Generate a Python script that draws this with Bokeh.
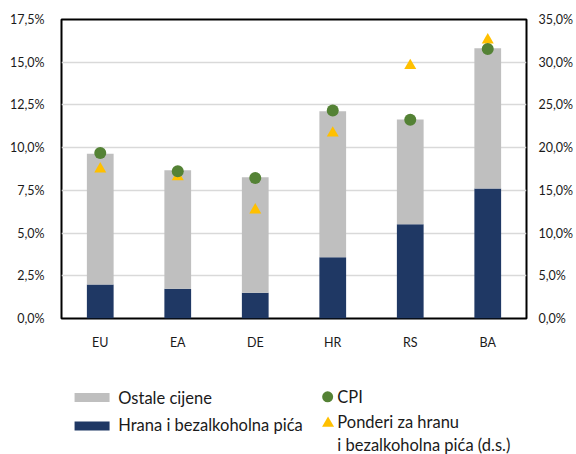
from bokeh.plotting import figure
from bokeh.models import (FactorRange, Range1d, LinearAxis, FixedTicker,
                          CustomJSTickFormatter, ColumnDataSource)
from bokeh.layouts import column
from bokeh.embed import file_html
from bokeh.resources import INLINE
from bokeh.core.properties import value

# ---- data ----
categories = ["EU", "EA", "DE", "HR", "RS", "BA"]
hrana = [1.99, 1.74, 1.50, 3.59, 5.52, 7.61]          # Hrana i bezalkoholna pića (left axis, %)
ostale = [7.65, 6.94, 6.77, 8.54, 6.12, 8.21]         # Ostale cijene (left axis, %)
cpi = [9.68, 8.62, 8.23, 12.17, 11.63, 15.78]         # CPI (left axis, %)
ponderi = [17.5, 16.6, 12.7, 21.7, 29.6, 32.6]        # Ponderi (right axis, %)
left_ticks = [0, 2.5, 5, 7.5, 10, 12.5, 15, 17.5]
right_ticks = [0, 5, 10, 15, 20, 25, 30, 35]
legend_labels = ["Ostale cijene", "Hrana i bezalkoholna pića", "CPI",
                 "Ponderi za hranu", "i bezalkoholna pića (d.s.)"]

# ---- style ----
FONT = "Lato"
TXT = "#1a1a1a"
NAVY = "#1F3864"
GREY = "#BFBFBF"
GREEN = "#548235"
GOLD = "#FFC000"
W = 576
H1 = 358
H2 = 96
BL, BR = 61, 48

src = ColumnDataSource(dict(cat=categories, hrana=hrana, ostale=ostale,
                            cpi=cpi, ponderi=ponderi))

p = figure(x_range=FactorRange(factors=categories, range_padding=0),
           y_range=Range1d(0, 17.5), width=W, height=H1,
           output_backend="svg", toolbar_location=None,
           min_border_left=BL, min_border_right=BR,
           min_border_top=19, min_border_bottom=40)
p.extra_y_ranges = {"right": Range1d(0, 35)}

p.vbar_stack(["hrana", "ostale"], x="cat", width=0.345, source=src,
             fill_color=[NAVY, GREY], line_color=None)
p.scatter(x="cat", y="ponderi", source=src, marker="triangle", size=12,
          fill_color=GOLD, line_color=None, y_range_name="right")
p.scatter(x="cat", y="cpi", source=src, marker="circle", size=12,
          fill_color=GREEN, line_color=None)

fmt = "return tick.toFixed(1).replace('.', ',') + '%';"
p.yaxis.ticker = FixedTicker(ticks=left_ticks)
p.yaxis.formatter = CustomJSTickFormatter(code=fmt)
p.yaxis.major_label_standoff = 17

raxis = LinearAxis(y_range_name="right", ticker=FixedTicker(ticks=right_ticks),
                   formatter=CustomJSTickFormatter(code=fmt))
raxis.major_label_standoff = 12
p.add_layout(raxis, "right")

p.xaxis.major_label_standoff = 16

for ax in p.axis:
    ax.axis_line_color = None
    ax.major_tick_line_color = None
    ax.minor_tick_line_color = None
    ax.major_tick_in = 0
    ax.major_tick_out = 0
    ax.major_label_text_font = FONT
    ax.major_label_text_font_size = "12.5px"
    ax.major_label_text_color = TXT

p.xgrid.grid_line_color = None
p.ygrid.ticker = FixedTicker(ticks=left_ticks)
p.ygrid.grid_line_color = "#D9D9D9"
p.ygrid.grid_line_width = 1.5
p.outline_line_color = "#000000"
p.outline_line_width = 2
p.background_fill_color = "white"
p.border_fill_color = "white"

# ---- legend panel (coordinates = page pixels) ----
q = figure(width=W, height=H2, x_range=Range1d(BL, W - BR),
           y_range=Range1d(H1 + H2, H1),
           output_backend="svg", toolbar_location=None,
           min_border_left=BL, min_border_right=BR,
           min_border_top=0, min_border_bottom=0,
           x_axis_location=None, y_axis_location=None)
q.grid.visible = False
q.outline_line_color = None
q.background_fill_color = "white"
q.border_fill_color = "white"

q.rect(x=[91.7], y=[397], width=35, height=9, width_units="screen",
       height_units="screen", fill_color=GREY, line_color=None)
q.rect(x=[91.7], y=[425.4], width=35, height=9, width_units="screen",
       height_units="screen", fill_color=NAVY, line_color=None)
q.scatter(x=[328.3], y=[396.3], marker="circle", size=11,
          fill_color=GREEN, line_color=None)
q.scatter(x=[328.7], y=[422.9], marker="triangle", size=12,
          fill_color=GOLD, line_color=None)
q.text(x=[118, 118, 338, 338, 338], y=[397.7, 424.8, 396.7, 421.8, 444],
       text=legend_labels, text_font=value(FONT), text_font_size="16.5px",
       text_color=TXT, text_align="left", text_baseline="middle")

layout = column(p, q, spacing=0)
open("out.html", "w").write(file_html(layout, INLINE))
